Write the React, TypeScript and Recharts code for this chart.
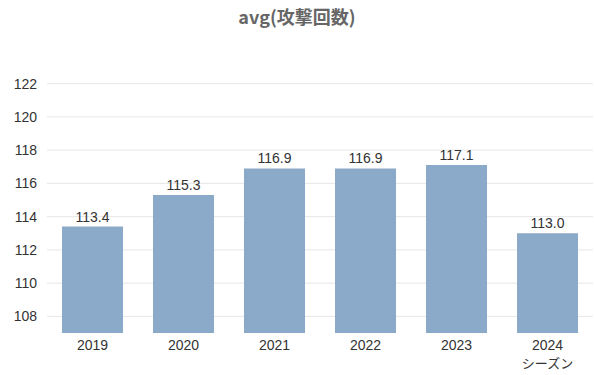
import React from "react";
import { BarChart, Bar, XAxis, YAxis, CartesianGrid, LabelList } from "recharts";

const seasons = ["2019", "2020", "2021", "2022", "2023", "2024"];
const avgAttacks = [113.4, 115.3, 116.9, 116.9, 117.1, 113.0];
const yTicks = [108, 110, 112, 114, 116, 118, 120, 122];

const data = seasons.map((s, i) => ({ season: s, value: avgAttacks[i] }));

const font = "'Liberation Sans', Arial, sans-serif";

const AxisTitle = (props: any) => {
  const vb = props.viewBox || {};
  const band = vb.width / seasons.length;
  return (
    <text
      x={vb.x + vb.width - band / 2}
      y={vb.y + 35}
      textAnchor="middle"
      fontSize={13}
      fill="#333"
      fontFamily="'Noto Sans CJK JP', sans-serif"
    >
      シーズン
    </text>
  );
};

export default function App() {
  return (
    <div style={{ position: "absolute", left: 0, top: 0, width: 594, height: 375, background: "#fff" }}>
      <div
        style={{
          position: "absolute",
          top: 3,
          left: 0,
          width: 594,
          textAlign: "center",
          fontFamily: "'Noto Sans CJK JP', sans-serif",
          fontWeight: "bold",
          fontSize: 18,
          color: "#666",
        }}
      >
        avg(攻撃回数)
      </div>
      <BarChart
        width={594}
        height={375}
        data={data}
        margin={{ top: 67, right: 1, bottom: 22, left: 0 }}
        barCategoryGap="16.5%"
      >
        <CartesianGrid vertical={false} stroke="#e6e6e6" horizontalValues={yTicks} />
        <XAxis
          dataKey="season"
          axisLine={false}
          tickLine={false}
          height={20}
          tick={{ fontSize: 14, fill: "#333", fontFamily: font }}
          tickMargin={1}
          label={<AxisTitle />}
        />
        <YAxis
          domain={[107, 123]}
          ticks={yTicks}
          width={47}
          axisLine={false}
          tickLine={false}
          tickMargin={4}
          tick={{ fontSize: 14, fill: "#333", fontFamily: font }}
        />
        <Bar dataKey="value" fill="#8BA9C8" isAnimationActive={false}>
          <LabelList
            dataKey="value"
            position="top"
            offset={5}
            formatter={(v: any) => Number(v).toFixed(1)}
            style={{ fontSize: 14, fill: "#333", fontFamily: font }}
          />
        </Bar>
      </BarChart>
    </div>
  );
}
